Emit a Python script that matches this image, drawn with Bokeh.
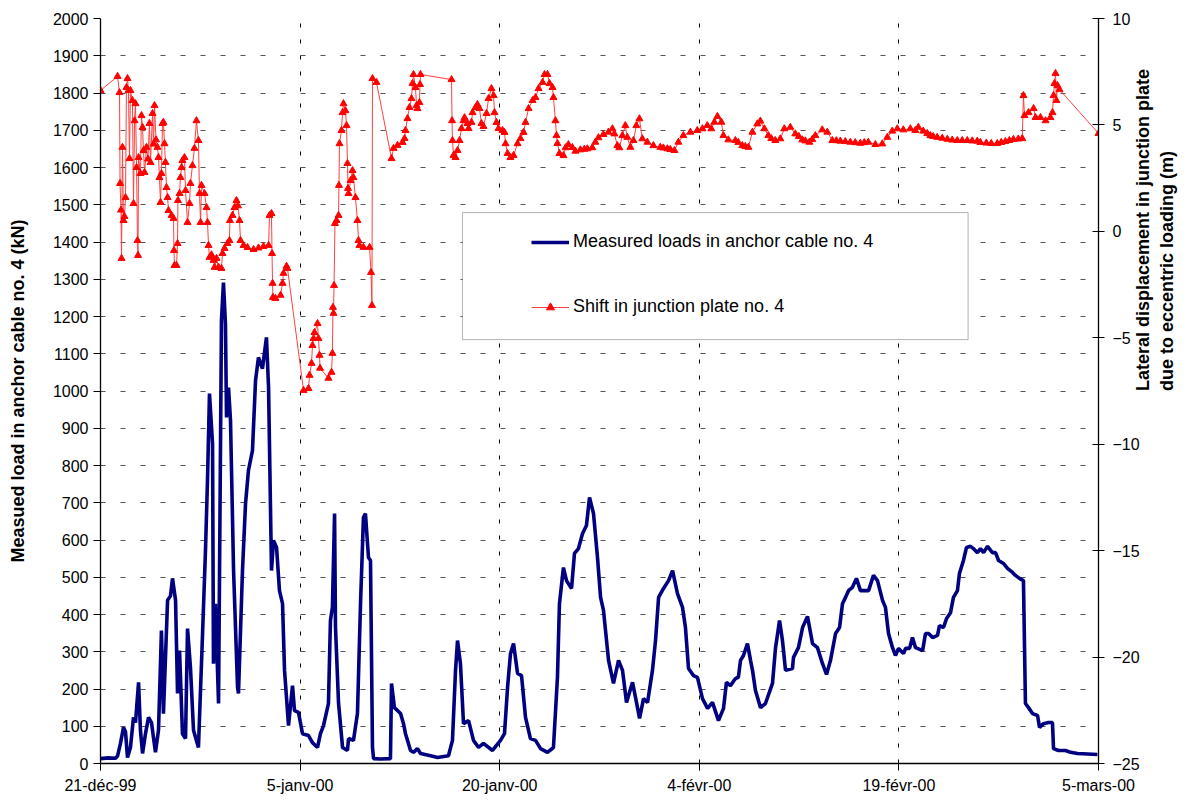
import math
from bokeh.plotting import figure
from bokeh.models import (Range1d, LinearAxis, FixedTicker, Legend, LegendItem,
                          BoxAnnotation)
from bokeh.embed import file_html
from bokeh.resources import INLINE

# ---------------- data (days after 21-déc-99) ----------------
date_ticks = [0, 15, 30, 45, 60, 75]
date_labels = ["21-déc-99", "5-janv-00", "20-janv-00", "4-févr-00", "19-févr-00", "5-mars-00"]

load_days = [0, 0.6, 1.13, 1.28, 1.5, 1.73, 1.88, 2.03, 2.25, 2.48, 2.63, 2.86, 3.0, 3.16, 3.38,
             3.61, 3.83, 4.13, 4.36, 4.58, 4.73, 5.04, 5.26, 5.41, 5.64, 5.79, 5.94, 6.16, 6.39,
             6.54, 6.76, 6.99, 7.36, 7.67, 7.89, 8.04, 8.19, 8.42, 8.49, 8.64, 8.87, 9.09, 9.24,
             9.39, 9.47, 9.62, 9.77, 10.0, 10.3, 10.37, 10.67, 10.9, 11.12, 11.42, 11.65, 11.87,
             12.17, 12.47, 12.63, 12.85, 13.0, 13.23, 13.45, 13.68, 13.83, 14.13, 14.43, 14.58,
             14.88, 15.18, 15.63, 15.93, 16.31, 16.53, 16.76, 17.13, 17.28, 17.43, 17.59, 17.66,
             17.89, 18.19, 18.56, 18.64, 19.01, 19.31, 19.54, 19.76, 19.91, 20.14, 20.29, 20.44,
             20.52, 21.04, 21.79, 21.87, 22.09, 22.55, 22.77, 22.92, 23.3, 23.52, 23.82, 24.05,
             24.8, 25.33, 26.15, 26.45, 26.68, 26.83, 27.05, 27.28, 27.66, 28.03, 28.41, 28.78,
             29.46, 30.06, 30.36, 30.59, 30.81, 31.04, 31.34, 31.64, 31.94, 32.31, 32.69, 33.07,
             33.59, 34.04, 34.34, 34.49, 34.79, 35.02, 35.4, 35.62, 35.92, 36.22, 36.52, 36.75,
             37.05, 37.35, 37.58, 37.8, 38.18, 38.55, 38.93, 39.23, 39.53, 39.98, 40.21, 40.51,
             40.81, 41.11, 41.48, 41.71, 41.94, 42.31, 42.69, 42.99, 43.36, 43.74, 43.96, 44.19,
             44.56, 44.86, 45.24, 45.62, 45.99, 46.44, 46.82, 47.04, 47.34, 47.72, 47.94, 48.1,
             48.32, 48.62, 48.85, 49.0, 49.22, 49.6, 49.97, 50.5, 50.73, 51.03, 51.25, 51.48,
             52.0, 52.08, 52.45, 52.76, 53.13, 53.51, 53.88, 54.26, 54.56, 54.86, 55.24, 55.54,
             55.76, 55.99, 56.21, 56.51, 56.81, 57.11, 57.72, 58.09, 58.39, 58.77, 58.99, 59.22,
             59.52, 59.74, 59.97, 60.35, 60.5, 60.8, 61.02, 61.25, 61.78, 62.0, 62.23, 62.53,
             62.9, 63.05, 63.35, 63.58, 63.88, 64.1, 64.4, 64.55, 64.85, 65.08, 65.38, 65.6,
             65.9, 66.13, 66.36, 66.66, 67.03, 67.26, 67.49, 67.86, 68.16, 68.54, 68.76, 69.06,
             69.36, 69.51, 69.74, 70.04, 70.42, 70.57, 70.87, 71.24, 71.54, 71.62, 71.99, 72.52,
             72.9, 73.42, 74.92]
load_kN = [13, 15, 14, 20, 54, 97, 85, 16, 43, 124, 110, 218, 90, 27, 80,
           124, 110, 30, 90, 357, 134, 438, 450, 497, 438, 188, 303, 80, 67,
           362, 258, 89, 43, 349, 572, 760, 993, 859, 268, 429, 161, 1189, 1291,
           1181, 929, 1009, 921, 518, 204, 188, 518, 698, 787, 840, 1028, 1090,
           1060, 1144, 1009, 518, 599, 580, 464, 429, 250, 102, 209, 142,
           137, 80, 75, 56, 43, 80, 102, 161, 384, 420, 671, 365,
           161, 43, 35, 67, 62, 134, 429, 660, 671, 553, 545, 43,
           13, 12, 13, 215, 150, 134, 107, 80, 35, 30, 40, 27,
           21, 16, 21, 62, 250, 330, 268, 107, 115, 62, 43, 54,
           35, 62, 80, 204, 295, 322, 242, 236, 124, 67, 62, 40,
           30, 43, 231, 429, 526, 491, 470, 564, 577, 617, 639, 714,
           671, 553, 446, 411, 277, 215, 277, 250, 164, 218, 177, 121,
           174, 164, 250, 330, 446, 470, 491, 518, 456, 419, 365, 255,
           236, 231, 174, 148, 164, 115, 148, 218, 209, 228, 232, 277,
           290, 322, 277, 250, 196, 150, 161, 215, 311, 384, 330, 250,
           255, 285, 311, 365, 395, 322, 311, 268, 239, 277, 349, 365,
           429, 446, 464, 473, 497, 464, 464, 505, 491, 438, 419, 349,
           311, 290, 309, 295, 309, 309, 338, 311, 303, 349, 349, 338,
           344, 370, 365, 389, 405, 446, 464, 510, 545, 580, 583, 577,
           566, 577, 566, 583, 566, 566, 545, 537, 524, 513, 505, 497,
           491, 161, 150, 134, 129, 97, 107, 110, 110, 40, 35, 35,
           30, 27, 24]

shift_days = [0, 1.28, 1.43, 1.47, 1.54, 1.58, 1.65, 1.73, 1.8, 1.88, 1.95, 2.03, 2.1, 2.18,
              2.25, 2.4, 2.48, 2.56, 2.63, 2.71, 2.78, 2.82, 2.86, 3.0, 3.08, 3.16, 3.23, 3.31,
              3.46, 3.57, 3.68, 3.76, 3.91, 3.98, 4.06, 4.17, 4.28, 4.36, 4.43, 4.51, 4.58,
              4.66, 4.73, 4.81, 4.88, 4.96, 5.04, 5.11, 5.34, 5.49, 5.52, 5.56, 5.71, 5.79,
              5.82, 5.94, 6.01, 6.09, 6.16, 6.31, 6.39, 6.54, 6.69, 6.76, 6.91, 7.06, 7.21,
              7.36, 7.44, 7.52, 7.59, 7.82, 7.97, 8.04, 8.12, 8.19, 8.34, 8.49, 8.57, 8.72,
              8.87, 9.09, 9.17, 9.32, 9.54, 9.69, 9.73, 9.92, 10.07, 10.22, 10.33, 10.45,
              10.52, 10.75, 11.05, 11.5, 11.87, 12.25, 12.63, 12.7, 12.85, 12.89, 12.93,
              12.96, 13.15, 13.53, 13.68, 13.75, 13.98, 14.05, 15.26, 15.63, 15.71, 15.86,
              15.93, 16.01, 16.08, 16.31, 16.38, 16.46, 16.5, 17.13, 17.36, 17.43, 17.47,
              17.51, 17.55, 17.62, 17.74, 17.89, 17.92, 17.96, 18.11, 18.19, 18.26, 18.41,
              18.49, 18.56, 18.6, 18.64, 18.79, 18.94, 19.01, 19.16, 19.31, 19.39, 19.46,
              19.76, 20.22, 20.33, 20.4, 20.44, 20.74, 21.87, 22.02, 22.32, 22.7, 22.85,
              22.92, 23.07, 23.22, 23.37, 23.45, 23.52, 23.67, 23.75, 23.82, 23.97, 24.01,
              24.05, 26.38, 26.42, 26.45, 26.53, 26.68, 26.83, 26.98, 27.13, 27.28, 27.36,
              27.58, 27.66, 27.88, 27.96, 28.18, 28.33, 28.48, 28.63, 28.78, 29.01, 29.16,
              29.38, 29.54, 29.61, 29.76, 29.91, 30.21, 30.36, 30.44, 30.59, 30.81, 31.04,
              31.34, 31.56, 31.79, 31.94, 32.17, 32.47, 32.69, 32.92, 33.22, 33.37, 33.59,
              33.74, 33.97, 34.04, 34.19, 34.27,
              34.34, 34.49, 34.79, 34.95, 35.16, 35.46, 35.69, 36.06, 36.36, 36.59, 36.96,
              37.19, 37.42, 37.79, 38.17, 38.47, 38.62, 38.84, 38.99, 39.22, 39.44, 39.59,
              39.82, 40.05, 40.27, 40.5, 40.72, 41.1, 41.55, 42.07, 42.3, 42.6, 42.82, 43.13,
              43.43, 43.8, 44.33, 44.85, 45.23, 45.6, 45.9, 46.13, 46.36, 46.66, 46.81, 47.18,
              47.71, 47.93, 48.23, 48.46, 48.69, 48.99, 49.36, 49.59, 49.89, 50.19, 50.41,
              50.71, 51.09, 51.39, 51.84, 52.22, 52.48, 52.74, 52.97, 53.27, 53.49, 53.72,
              54.24, 54.62, 55.0, 55.3, 55.6, 55.97, 56.35, 56.72, 57.1, 57.4, 57.7, 58.23,
              58.75, 59.13, 59.5, 59.88, 60.33, 60.86, 61.23, 61.46, 61.83, 62.13, 62.36,
              62.58, 62.88, 63.26, 63.64, 64.01, 64.39, 64.76, 65.14, 65.51, 65.89, 66.12,
              66.57, 66.94, 67.39, 67.69, 68.0, 68.3, 68.6, 68.97, 69.27,
              69.36, 69.44, 69.74, 70.12, 70.27, 70.64, 71.02, 71.39, 71.54,
              71.62, 71.69, 71.77, 71.84, 71.92, 72.07, 75.0]
shift_m = [6.62, 7.28, 6.52, 2.25, 1.0, -1.27, 3.95, 0.51, 0.7, 1.59, 6.76, 7.18, 6.62, 3.42,
           6.62, 6.15, 1.31, 5.2, 6.0, 3.0, -0.43, -1.13, 3.47, 2.72, 5.44, 4.88, 3.8, 2.77,
           3.95, 3.4, 5.07, 3.24, 5.54, 4.1, 5.91, 4.3, 3.95, 3.47, 2.53, 1.36, 2.72,
           5.07, 5.12, 4.12, 3.24, 2.06, 1.59, 0.98, 0.75, 0.61, -0.9, -1.6, -1.6, -0.57,
           1.45, 1.78, 2.53, 3.0, 3.33, 3.47, 1.92, 0.42, 1.31, 2.25, 3.09, 3.9, 5.2,
           4.27, 1.78, 0.42, 2.16, 1.78, 1.12, 0.42, -0.66, -1.22, -1.1, -1.36, -1.69, -1.27,
           -1.69, -1.74, -1.04, -0.8, -0.57, -0.43, 0.51, 0.75, 1.12, 1.45, 1.2, 0.51,
           -0.43, -0.66, -0.76, -0.85, -0.78, -0.71, -0.66, 0.75, 0.84, -1.04, -2.44,
           -3.1, -3.15, -3.0, -2.44, -1.97, -1.64, -1.74, -7.47, -7.38, -6.76, -6.2,
           -5.36, -5.03, -4.75, -4.33, -5.03, -5.82, -6.43, -6.9, -6.62, -5.73, -3.57,
           -3.85, -2.54, 0.37, 0.51, 0.75, 2.16, 4.12, 4.74, 5.58, 6.0, 5.67,
           4.97, 3.19, 2.02, 1.78, 2.39, 2.86, 2.53, 1.59, 0.51, -0.43, -0.66,
           -0.75, -0.75, -1.93, -3.48, 7.18, 7.0, 3.42, 3.9, 4.04, 4.18, 4.36,
           4.74, 5.3, 5.82, 6.24, 6.95, 7.37, 6.76, 5.91, 5.77, 6.05, 6.9,
           7.37, 7.13, 5.2, 4.27, 3.57, 3.47, 3.8, 4.27, 4.83, 5.2, 5.34,
           5.07, 4.83, 5.12, 5.58, 5.82, 5.96, 5.77, 5.07, 4.93, 5.54, 6.24,
           6.71, 6.38, 5.58, 5.12, 4.83, 4.74, 4.65, 4.12, 3.66, 3.47, 3.57,
           4.12, 4.36, 4.65, 5.12, 5.77, 6.15, 6.29, 6.71, 7.0, 7.37, 7.37,
           6.95, 6.76, 6.29, 5.2, 4.5,
           4.13, 3.66, 3.56, 3.93, 4.08, 3.94, 3.77, 3.83, 3.86, 3.88, 3.93,
           4.19, 4.40, 4.55, 4.66, 4.82, 4.58, 4.03, 3.93, 4.50, 4.97, 4.42,
           3.95, 4.27, 4.97, 5.29, 4.35, 4.19, 4.03, 3.95, 3.92, 3.88, 3.85, 3.80,
           4.19, 4.50, 4.66, 4.74, 4.82, 4.97, 4.82, 5.13, 5.40, 5.13, 4.50, 4.30,
           4.27, 4.18, 4.03, 3.99, 3.95, 4.66, 5.05, 5.18, 4.82, 4.50, 4.36,
           4.27, 4.35, 4.82, 4.89, 4.58, 4.46, 4.30, 4.25, 4.19, 4.32, 4.50,
           4.77, 4.66, 4.27, 4.26, 4.24, 4.22, 4.19, 4.17, 4.14, 4.17, 4.19, 4.08,
           4.11, 4.42, 4.71, 4.82, 4.77, 4.82, 4.74, 4.89, 4.71, 4.60, 4.50,
           4.46, 4.42, 4.38, 4.33, 4.29, 4.27, 4.27, 4.27, 4.25, 4.24, 4.18,
           4.15, 4.13, 4.13, 4.18, 4.22, 4.27, 4.32, 4.34, 4.36,
           6.38, 5.44, 5.58, 5.77, 5.35, 5.35, 5.2, 5.35, 5.58,
           6.38, 6.95, 7.42, 6.15, 6.85, 6.66, 4.6]

load_name = "Measured loads in anchor cable no. 4"
shift_name = "Shift in junction plate no. 4"
left_title = "Measued load in anchor cable no. 4 (kN)"
right_title = "Lateral displacement in junction plate\ndue to eccentric loading (m)"

# ---------------- figure ----------------
TICK_FONT = "Liberation Sans"
LABEL_FONT = "Liberation Sans Narrow, Liberation Sans"

p = figure(width=1201, height=800, output_backend="svg", toolbar_location=None,
           x_range=Range1d(0, 75), y_range=Range1d(0, 2000),
           min_border_left=100, min_border_right=103, min_border_top=18,
           min_border_bottom=37, background_fill_color="white",
           border_fill_color="white", outline_line_color=None)
p.extra_y_ranges = {"right": Range1d(-25, 10)}

# grids
p.xgrid.ticker = FixedTicker(ticks=date_ticks)
p.xgrid.grid_line_color = "#000000"
p.xgrid.grid_line_dash = "4 12"
p.xgrid.grid_line_width = 1
p.ygrid.ticker = FixedTicker(ticks=list(range(0, 2001, 100)))
p.ygrid.grid_line_color = "#555555"
p.ygrid.grid_line_dash = "5 15"
p.ygrid.grid_line_width = 1

# x axis
xa = p.xaxis[0]
xa.ticker = FixedTicker(ticks=date_ticks)
xa.major_label_overrides = {t: l for t, l in zip(date_ticks, date_labels)}
xa.major_tick_out = 7
xa.major_tick_in = 0
xa.minor_tick_out = 0
xa.minor_tick_in = 0
xa.major_label_standoff = 6

# left axis
ya = p.yaxis[0]
ya.ticker = FixedTicker(ticks=list(range(0, 2001, 100)))
ya.major_tick_out = 7
ya.major_tick_in = 0
ya.minor_tick_out = 0
ya.minor_tick_in = 0
ya.axis_label = left_title
ya.major_label_standoff = 5
ya.axis_label_standoff = 22

# right axis
ra = LinearAxis(y_range_name="right", ticker=FixedTicker(ticks=list(range(-25, 11, 5))),
                axis_label=right_title)
ra.major_tick_out = 6
ra.major_tick_in = 6
ra.minor_tick_out = 0
ra.minor_tick_in = 0
ra.major_label_standoff = 8
ra.axis_label_standoff = 12
try:
    ra.axis_label_orientation = math.pi / 2
except Exception:
    pass
p.add_layout(ra, "right")

for ax in [xa, ya, ra]:
    ax.axis_line_color = "black"
    ax.axis_line_width = 1.3
    ax.major_tick_line_color = "black"
    ax.major_tick_line_width = 1
    ax.major_label_text_font = TICK_FONT
    ax.major_label_text_font_size = "16px"
    ax.major_label_text_color = "black"
    ax.axis_label_text_font = LABEL_FONT
    ax.axis_label_text_font_style = "bold"
    ax.axis_label_text_font_size = "18px"
    ax.axis_label_text_color = "black"

# series
blue = p.line(load_days, load_kN, line_color="#000080", line_width=3.6)
red_line = p.line(shift_days, shift_m, y_range_name="right", line_color="#ff4040",
                  line_width=1)
red_pts = p.scatter(shift_days, shift_m, y_range_name="right", marker="triangle",
                    size=7, fill_color="#ff0000", line_color="#ff0000")

# legend frame (white box) and legend
box = BoxAnnotation(left=27.2, right=65.2, bottom=1138, top=1479,
                    fill_color="white", fill_alpha=1.0, line_color="#000000",
                    line_width=1)
p.add_layout(box)

legend = Legend(items=[LegendItem(label=load_name, renderers=[blue]),
                       LegendItem(label=shift_name, renderers=[red_line, red_pts])],
                location=(431, 446), padding=0, margin=0, spacing=44,
                glyph_width=38, glyph_height=20, label_height=20, label_standoff=4,
                border_line_alpha=0, background_fill_alpha=0,
                label_text_font=TICK_FONT, label_text_font_size="18px",
                label_text_color="black")
p.add_layout(legend, "center")

open("out.html", "w").write(file_html(p, INLINE))
